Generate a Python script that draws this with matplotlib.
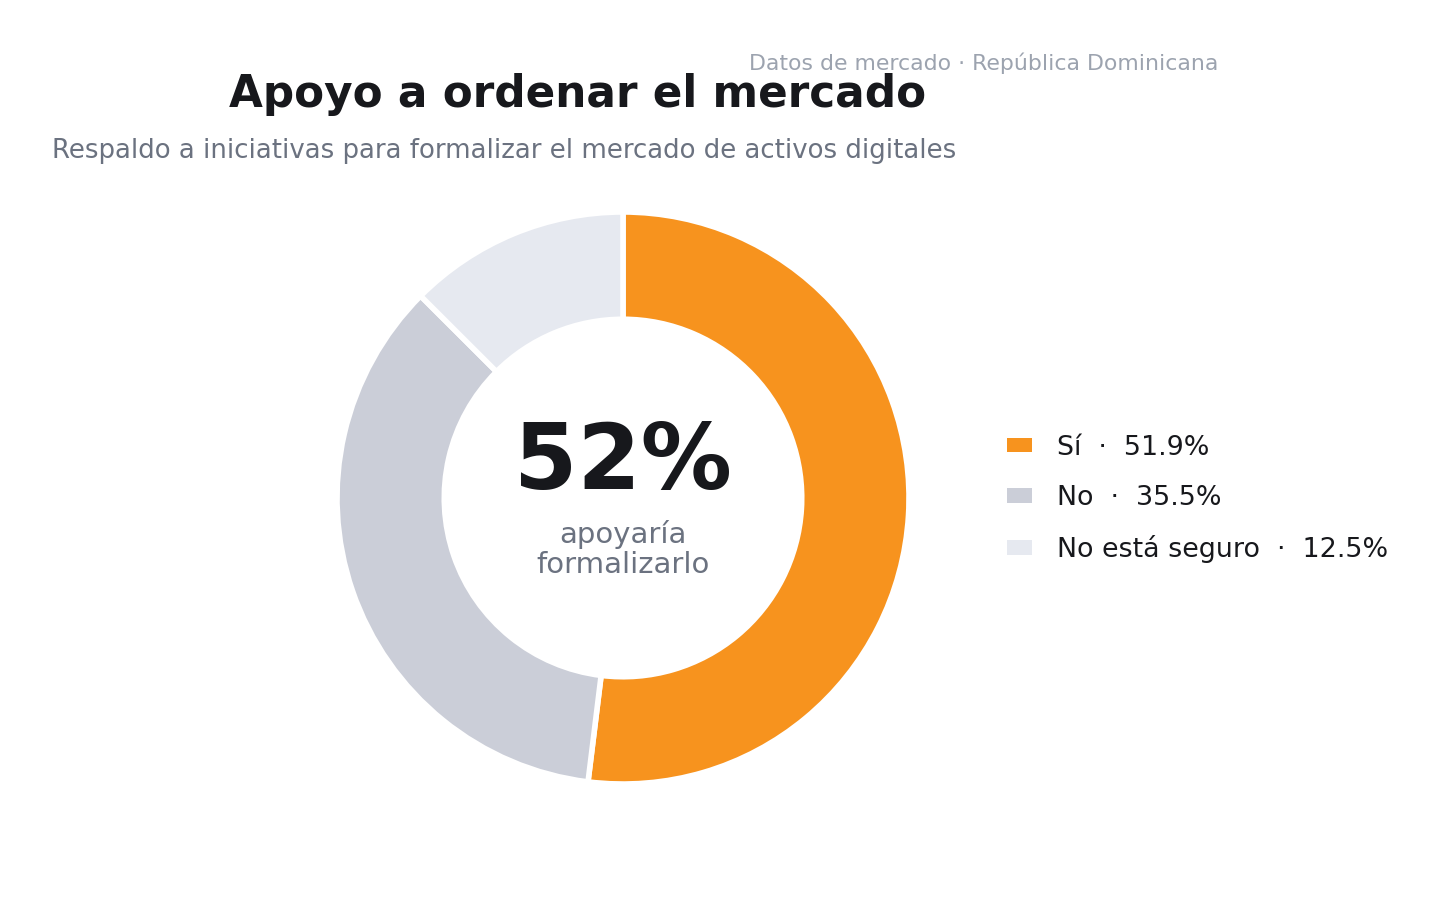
import matplotlib
matplotlib.use("Agg")
import matplotlib.pyplot as plt
from matplotlib.patches import Patch

labels = ["Sí", "No", "No está seguro"]
values = [51.9, 35.5, 12.5]
colors = ["#F7931E", "#CBCED8", "#E6E9F0"]

W, H = 1453, 909
fig = plt.figure(figsize=(W / 100, H / 100), dpi=100)
fig.patch.set_facecolor("white")

cx, cy, r = 623, 498, 286
ax = fig.add_axes([(cx - r) / W, (H - cy - r) / H, 2 * r / W, 2 * r / H])
wedges, _ = ax.pie(values, colors=colors, startangle=90, counterclock=False,
                   radius=1.0, wedgeprops=dict(width=0.375, edgecolor="white", linewidth=4))
ax.set_xlim(-1, 1)
ax.set_ylim(-1, 1)
ax.set_aspect("equal")
ax.axis("off")

ax.text(0, 0.12, f"{round(values[0])}%", ha="center", va="center",
        fontsize=65.5, fontweight="bold", color="#17181c")
ax.text(0, -0.18, "apoyaría\nformalizarlo", ha="center", va="center",
        fontsize=21, color="#6b7280", linespacing=1.1)

fig.text(578 / W, 1 - 95 / H, "Apoyo a ordenar el mercado", ha="center", va="center",
         fontsize=31.5, fontweight="bold", color="#17181c")
fig.text(52 / W, 1 - 151 / H, "Respaldo a iniciativas para formalizar el mercado de activos digitales",
         ha="left", va="center", fontsize=18.7, color="#6b7280")
fig.text(1218 / W, 1 - 63 / H, "Datos de mercado · República Dominicana",
         ha="right", va="center", fontsize=15.8, color="#9ca3af")

handles = [Patch(facecolor=c, edgecolor="none") for c in colors]
leg_labels = [f"{l}  ·  {v}%" for l, v in zip(labels, values)]
fig.legend(handles, leg_labels, loc="center left", bbox_to_anchor=(983 / W, 1 - 499 / H),
           frameon=False, fontsize=19.4, labelcolor="#17181c", handlelength=0.9,
           handleheight=0.45, handletextpad=0.93, labelspacing=0.9)

fig.savefig("out.png", dpi=100, facecolor="white")
